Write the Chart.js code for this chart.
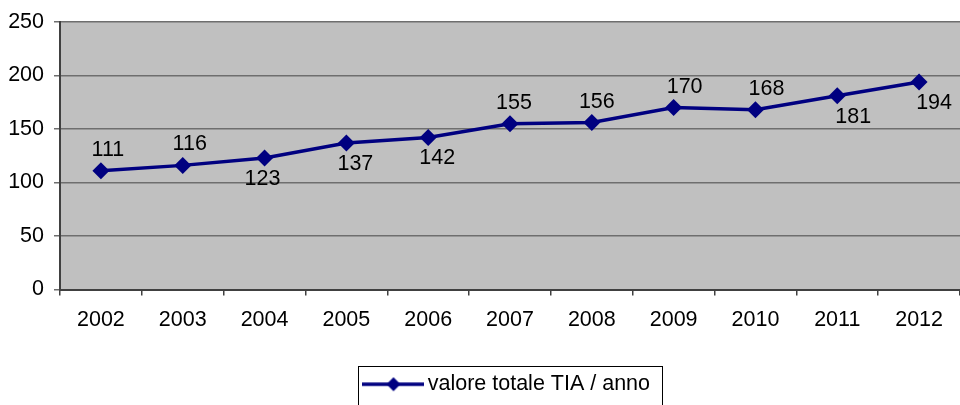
<!DOCTYPE html>
<html>
<head>
<meta charset="utf-8">
<script src="https://cdn.jsdelivr.net/npm/chart.js@4/dist/chart.umd.min.js"></script>
<style>
html,body{margin:0;padding:0;background:#fff;}
canvas{display:block;}
</style>
</head>
<body>
<canvas id="c" width="960" height="405"></canvas>
<script>
// ---- data ----
const years = ['2002','2003','2004','2005','2006','2007','2008','2009','2010','2011','2012'];
const values = [111,116,123,137,142,155,156,170,168,181,194];
const seriesLabel = 'valore totale TIA / anno';
const yTicks = [0,50,100,150,200,250];
// data-label placement (above / below the point)
const labelSide = ['above','above','below','below','below','above','above','above','above','below','below'];
const labelDx = [7,7,-2,9,9,4,5,11,11,16,15];

const FONT = "Arial, 'Liberation Sans', sans-serif";
const FS = 21.5;
const NAVY = '#000080';

// legend marker: line with a diamond
const mk = document.createElement('canvas');
mk.width = 62; mk.height = 18;
(function(){
  const g = mk.getContext('2d');
  g.strokeStyle = NAVY; g.lineWidth = 3.5;
  g.beginPath(); g.moveTo(0,9); g.lineTo(62,9); g.stroke();
  g.fillStyle = NAVY;
  g.beginPath(); g.moveTo(31,2); g.lineTo(38,9); g.lineTo(31,16); g.lineTo(24,9); g.closePath(); g.fill();
})();

const plotBg = {
  id: 'plotBg',
  beforeDraw(chart){
    const {ctx, chartArea:a} = chart;
    ctx.save();
    ctx.fillStyle = '#c0c0c0';
    ctx.fillRect(a.left, a.top, a.right - a.left, a.bottom - a.top);
    ctx.restore();
  }
};

const dataLabels = {
  id: 'dataLabels',
  afterDatasetsDraw(chart){
    const {ctx} = chart;
    const meta = chart.getDatasetMeta(0);
    ctx.save();
    ctx.font = FS + 'px ' + FONT;
    ctx.fillStyle = '#000';
    ctx.textAlign = 'center';
    ctx.textBaseline = 'middle';
    meta.data.forEach((pt, i) => {
      const dy = labelSide[i] === 'above' ? -21 : 21;
      ctx.fillText(String(values[i]), pt.x + labelDx[i], pt.y + dy);
    });
    ctx.restore();
  }
};

const legendBorder = {
  id: 'legendBorder',
  afterDraw(chart){
    const lg = chart.legend;
    if (!lg || !lg.legendHitBoxes || !lg.legendHitBoxes.length) return;
    const h = lg.legendHitBoxes[0];
    const {ctx} = chart;
    ctx.save();
    ctx.strokeStyle = '#000';
    ctx.lineWidth = 1;
    const x0 = Math.round(h.left - 12) + 0.5;
    const x1 = Math.round(h.left + h.width + 12) + 0.5;
    const y0 = Math.round(h.top + h.height/2 - 18) + 0.5;
    ctx.strokeRect(x0, y0, x1 - x0, 60);
    ctx.restore();
  }
};

new Chart(document.getElementById('c'), {
  type: 'line',
  data: {
    labels: years,
    datasets: [{
      label: seriesLabel,
      data: values,
      borderColor: NAVY,
      backgroundColor: NAVY,
      borderWidth: 3.5,
      tension: 0,
      fill: false,
      clip: false,
      pointStyle: 'rectRot',
      pointRadius: 8.5,
      pointHoverRadius: 8.5,
      pointBackgroundColor: NAVY,
      pointBorderColor: NAVY,
      pointBorderWidth: 0
    }]
  },
  options: {
    responsive: false,
    devicePixelRatio: 1,
    animation: false,
    events: [],
    layout: { autoPadding: false, padding: { top: 22, right: 0, bottom: 0, left: 0 } },
    plugins: {
      tooltip: { enabled: false },
      legend: {
        display: true,
        position: 'bottom',
        fullSize: false,
        labels: {
          usePointStyle: true,
          pointStyle: mk,
          pointStyleWidth: 47,
          padding: 0,
          color: '#000',
          font: { family: FONT, size: FS }
        }
      }
    },
    scales: {
      x: {
        type: 'category',
        offset: true,
        grid: {
          display: true,
          drawOnChartArea: false,
          drawTicks: true,
          tickLength: 6,
          color: '#404040',
          lineWidth: 1.5,
          offset: true
        },
        border: { display: true, color: '#404040', width: 2 },
        ticks: {
          color: '#000',
          font: { family: FONT, size: FS },
          padding: 12,
          maxRotation: 0,
          autoSkip: false
        },
        afterFit(scale){ scale.height = 84; scale.paddingLeft = 0; scale.paddingRight = 0; }
      },
      y: {
        min: 0,
        max: 250,
        afterBuildTicks(scale){ scale.ticks = yTicks.map(v => ({value: v})); },
        grid: {
          color: '#6e6e6e',
          lineWidth: 1.5,
          tickLength: 6,
          drawTicks: true
        },
        border: { display: true, color: '#404040', width: 2 },
        ticks: {
          color: '#000',
          font: { family: FONT, size: FS },
          padding: 10
        },
        afterFit(scale){ scale.width = 60; scale.paddingTop = 0; scale.paddingBottom = 0; }
      }
    }
  },
  plugins: [plotBg, dataLabels, legendBorder]
});
</script>
</body>
</html>
